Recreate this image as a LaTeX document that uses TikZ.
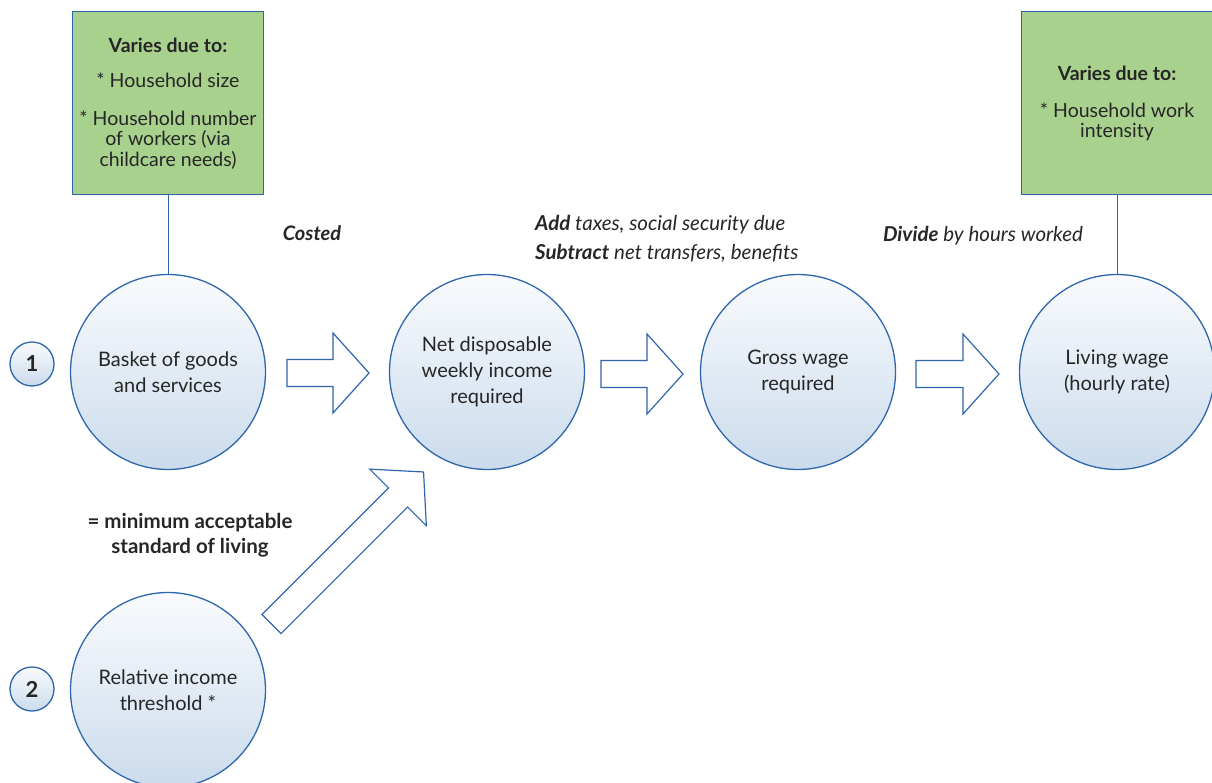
\documentclass[tikz,border=0pt]{standalone}
\usepackage{fontspec}
\setmainfont{Lato}
\usetikzlibrary{positioning, calc}
\definecolor{edge}{HTML}{2E66AC}
\definecolor{bubtop}{HTML}{F9FBFD}
\definecolor{bubbot}{HTML}{CBDBEC}
\definecolor{leaf}{HTML}{A9D18E}
\definecolor{ink}{HTML}{262626}

\begin{document}
\begin{tikzpicture}[x=1pt, y=-1pt,
      every node/.style={text=ink, font=\fontsize{20}{26}\selectfont},
      bubble/.style={circle, draw=edge, line width=1.3pt, top color=bubtop,
        bottom color=bubbot, minimum size=195pt, inner sep=0pt, align=center},
      badge/.style={circle, draw=edge, line width=1.3pt, top color=bubtop,
        bottom color=bubbot, minimum size=44pt, inner sep=0pt,
        font=\fontsize{22}{22}\selectfont\bfseries},
      factor/.style={draw=edge, line width=1pt, fill=leaf, minimum width=191pt,
        minimum height=183pt, align=center, font=\fontsize{19.5}{20.5}\selectfont},
      tie/.style={draw=edge, line width=1pt},
      note/.style={align=left, inner sep=0pt, font=\fontsize{20.5}{29}\selectfont\itshape},
      pics/fatarrow/.style={code={
        \draw[draw=edge, line width=1.2pt, fill=white]
          (0,-13.5) -- (#1-36,-13.5) -- (#1-36,-40) -- (#1,0)
          -- (#1-36,40) -- (#1-36,13.5) -- (0,13.5) -- cycle;}}]

    \useasboundingbox (0,0) rectangle (1212,783);

    % Circles
    \node[bubble] at (168,372) (basket) {Basket of goods\\and services};
    \node[bubble] at (487,372) (net) {Net disposable\\weekly income\\required};
    \node[bubble] at (798,372) (gross) {Gross wage\\required};
    \node[bubble] at (1117,372) (living) {Living wage\\(hourly rate)};
    \node[bubble] at (168,690) (relinc) {Relative income\\threshold *};

    \node[badge] at (32,364) (one) {1};
    \node[badge] at (32,689) (two) {2};

    % Green boxes
    \node[factor] at (168,103.5) (why1)
      {\textbf{Varies due to:}\\[14.5pt]* Household size\\[17.5pt]* Household number\\of workers (via\\childcare needs)};
    \node[factor] at (1117,103.5) (why2)
      {\textbf{Varies due to:}\\[16.5pt]* Household work\\intensity};

    \draw[tie] (why1) -- (basket);
    \draw[tie] (why2) -- (living);

    % Block arrows
    \pic at (287,373) {fatarrow=82};
    \pic at (601,374) {fatarrow=82};
    \pic at (916,374) {fatarrow=83};
    \pic[rotate=45] at (271.5,624) {fatarrow=215};

    % Labels
    \node at (312,233) (costed) {\textbf{\textit{Costed}}};
    \node[note, anchor=west] at (535,238.5) (adjust)
      {\textbf{Add} taxes, social security due\\\textbf{Subtract} net transfers, benefits};
    \node[note] at (983,236) (divide) {\textbf{Divide} by hours worked};
    \node[align=center, font=\fontsize{20.5}{25}\selectfont\bfseries] at (190,535.5) (minstd)
      {= minimum acceptable\\standard of living};
  \end{tikzpicture}
\end{document}
